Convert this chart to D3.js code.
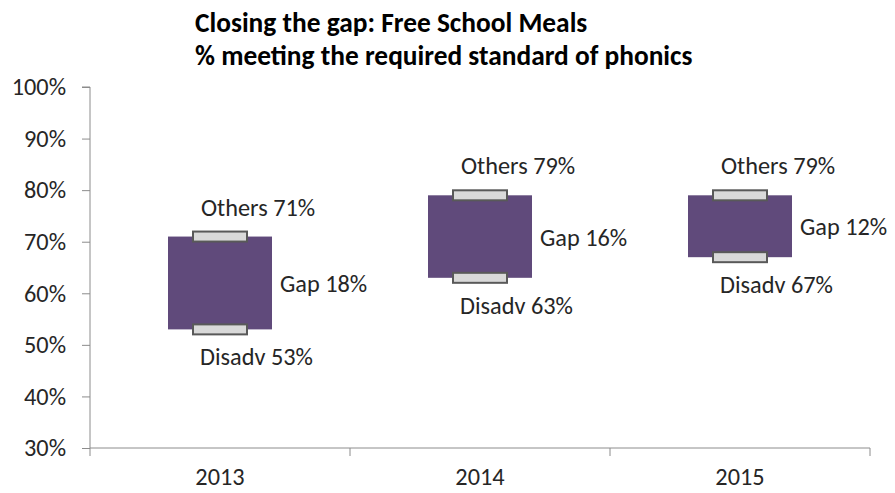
<!DOCTYPE html>
<html>
<head>
<meta charset="utf-8">
<script src="https://cdn.jsdelivr.net/npm/d3@7"></script>
<style>
  html, body { margin: 0; padding: 0; background: #fff; }
  svg { display: block; font-family: Calibri, Carlito, "Open Sans", sans-serif; }
</style>
</head>
<body>
<svg id="chart" width="895" height="493"></svg>
<script>
// Phonics: share meeting the required standard
const years = ["2013", "2014", "2015"];
const others = [71, 79, 79];   // non-FSM pupils
const disadv = [53, 63, 67];   // disadvantaged (FSM) pupils
const yTicks = [30, 40, 50, 60, 70, 80, 90, 100];
const titleLines = ["Closing the gap: Free School Meals", "% meeting the required standard of phonics"];

const svg = d3.select("#chart");
const margin = { left: 90, right: 25, top: 87, bottom: 45 };
const W = 895, H = 493;

const x = d3.scaleBand().domain(years).range([margin.left, W - margin.right]);
const y = d3.scaleLinear().domain([30, 100]).range([H - margin.bottom, margin.top]);

const axisColor = "#8c8c8c";
const textColor = "#262626";
const fs = 24.3;

// Title
svg.append("g").selectAll("text").data(titleLines).join("text")
  .attr("x", 195)
  .attr("y", (d, i) => 32 + i * 33)
  .attr("font-size", 27.4)
  .attr("font-weight", "bold")
  .attr("fill", "#000")
  .text(d => d);

// Y axis
const yAxis = svg.append("g")
  .attr("transform", `translate(${margin.left},0)`)
  .call(d3.axisLeft(y).tickValues(yTicks).tickSize(8).tickPadding(16).tickFormat(d => d + "%"))
  .attr("font-family", null)
  .attr("font-size", 24.3);
yAxis.select(".domain").attr("stroke", axisColor).attr("d", `M-8,${y(100)}H0V${y(30)}`);
yAxis.selectAll(".tick line").attr("stroke", axisColor);
yAxis.selectAll(".tick text").attr("fill", textColor).attr("dy", "0.32em");

// X axis with ticks on category boundaries
const xAxisG = svg.append("g").attr("transform", `translate(0,${y(30)})`);
xAxisG.append("line")
  .attr("x1", margin.left).attr("x2", W - margin.right)
  .attr("stroke", axisColor);
const bounds = years.map(d => x(d)).concat([x(years[years.length - 1]) + x.bandwidth()]);
xAxisG.selectAll("line.tick").data(bounds).join("line")
  .attr("class", "tick")
  .attr("x1", d => d).attr("x2", d => d)
  .attr("y1", 0).attr("y2", 8)
  .attr("stroke", axisColor);
xAxisG.selectAll("text").data(years).join("text")
  .attr("x", d => x(d) + x.bandwidth() / 2)
  .attr("y", 37)
  .attr("text-anchor", "middle")
  .attr("font-size", fs)
  .attr("fill", textColor)
  .text(d => d);

const data = years.map((yr, i) => ({ year: yr, hi: others[i], lo: disadv[i], gap: others[i] - disadv[i] }));
const boxW = 104, markW = 54, markH = 10;
const cx = d => x(d.year) + x.bandwidth() / 2;

// Gap boxes
svg.append("g").selectAll("rect").data(data).join("rect")
  .attr("x", d => cx(d) - boxW / 2)
  .attr("y", d => y(d.hi))
  .attr("width", boxW)
  .attr("height", d => y(d.lo) - y(d.hi))
  .attr("fill", "#604a7b");

// Markers for each group value
const marks = svg.append("g");
["hi", "lo"].forEach(k => {
  marks.selectAll("rect." + k).data(data).join("rect")
    .attr("class", k)
    .attr("x", d => cx(d) - markW / 2)
    .attr("y", d => y(d[k]) - markH / 2)
    .attr("width", markW)
    .attr("height", markH)
    .attr("fill", "#d9d9d9")
    .attr("stroke", "#595959")
    .attr("stroke-width", 2);
});

// Labels
const labels = svg.append("g").attr("font-size", fs).attr("fill", textColor);
labels.selectAll("text.hi").data(data).join("text")
  .attr("class", "hi")
  .attr("x", d => cx(d) - 19)
  .attr("y", d => y(d.hi) - 21)
  .text(d => `Others ${d.hi}%`);
labels.selectAll("text.lo").data(data).join("text")
  .attr("class", "lo")
  .attr("x", d => cx(d) - 20)
  .attr("y", d => y(d.lo) + 36)
  .text(d => `Disadv ${d.lo}%`);
labels.selectAll("text.gap").data(data).join("text")
  .attr("class", "gap")
  .attr("x", d => cx(d) + boxW / 2 + 8)
  .attr("y", d => (y(d.hi) + y(d.lo)) / 2 + 9)
  .text(d => `Gap ${d.gap}%`);
</script>
</body>
</html>
